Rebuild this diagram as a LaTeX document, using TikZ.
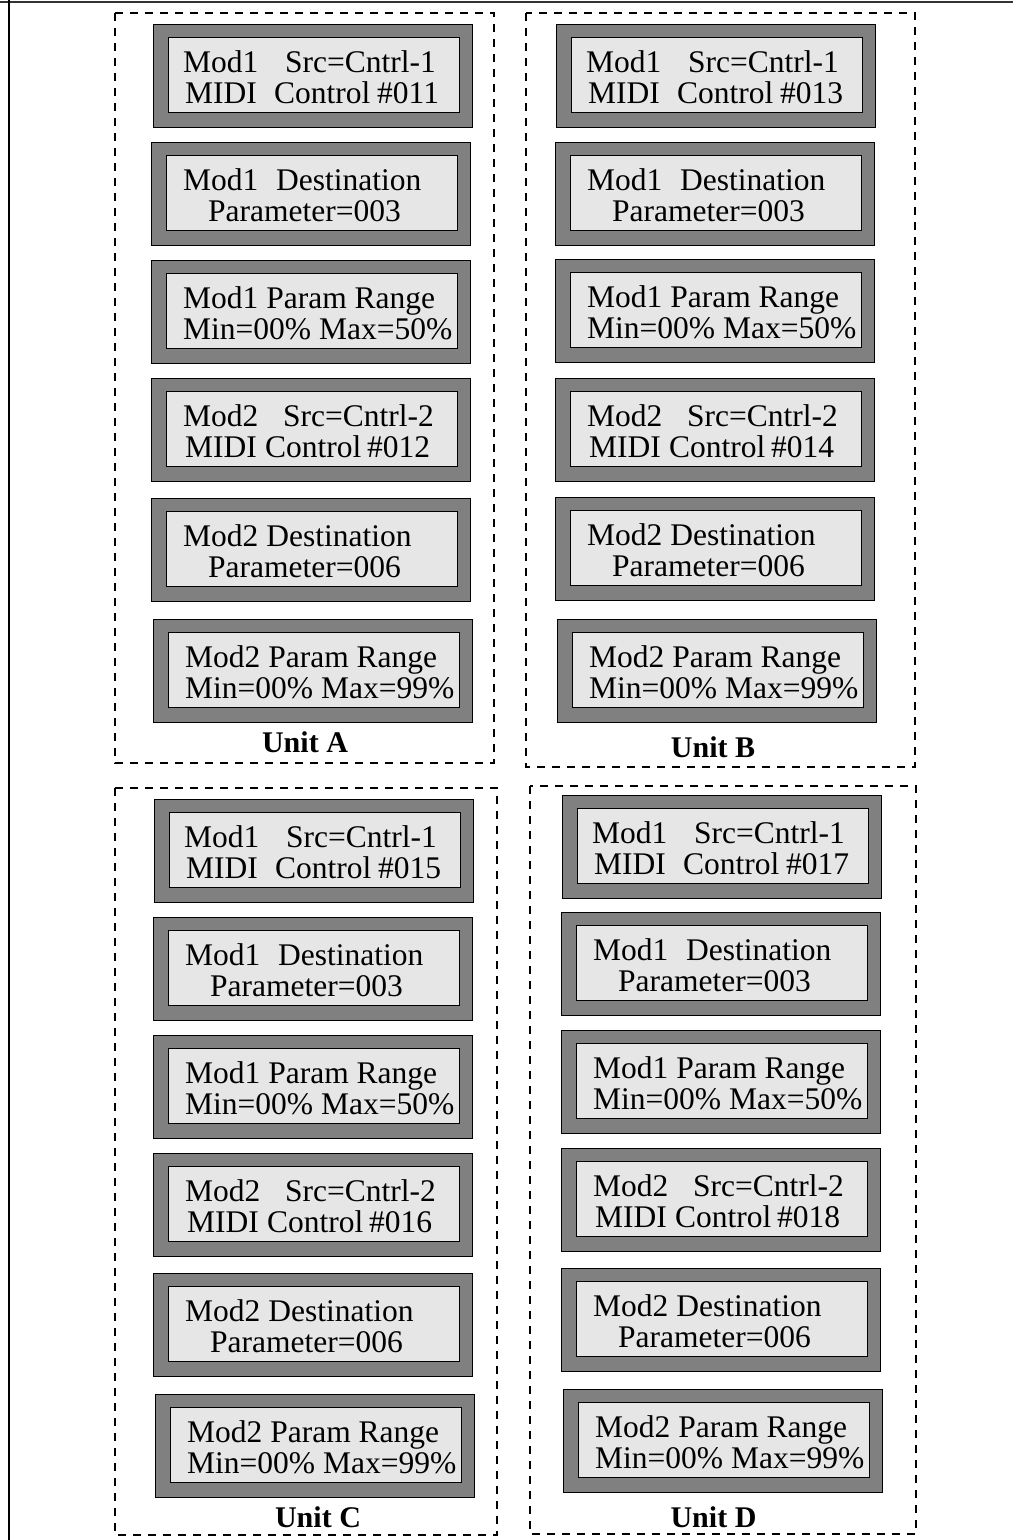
\documentclass[tikz,border=0pt]{standalone}
\usepackage{fontspec}
\setmainfont{Liberation Serif}
\definecolor{outerg}{HTML}{808080}
\definecolor{innerg}{HTML}{E6E6E6}
\tikzset{
 outerbox/.style={draw=black, line width=1pt, fill=outerg, minimum width=319pt, minimum height=103pt, inner sep=0pt, anchor=north west},
 innerbox/.style={draw=black, line width=1pt, fill=innerg, minimum width=291pt, minimum height=75pt, inner sep=0pt, anchor=north west},
 lcdtext/.style={anchor=base west, inner sep=0pt, font=\fontsize{31.5}{31.5}\selectfont},
 unitframe/.style={draw=black, line width=1.2pt, dash pattern=on 8pt off 7pt},
 unitlabel/.style={anchor=base, inner sep=0pt, font=\fontsize{30}{30}\selectfont\bfseries},
 framerule/.style={line width=2pt},
}
\newcommand\lcdbox[5]{%
 \node[outerbox] (#1) at (#2,#3) {};
 \node[innerbox] (#1i) at ([xshift=15pt,yshift=-13pt]#1.north west) {};
 \node[lcdtext] (#1a) at ([xshift=31pt,yshift=-48pt]#1.north west) {#4};
 \node[lcdtext] (#1b) at ([xshift=31pt,yshift=-79pt]#1.north west) {#5};
}
\newcommand\srcone[4]{\lcdbox{#1}{#2}{#3}{\hspace*{-1pt}\makebox[102pt][l]{Mod1}Src=Cntrl-1}{\hspace*{1pt}\makebox[89pt][l]{MIDI}\makebox[103pt][l]{Control}\##4}}
\newcommand\destone[3]{\lcdbox{#1}{#2}{#3}{\hspace*{1pt}\makebox[93pt][l]{Mod1}Destination}{\hspace*{26pt}Parameter=003}}
\newcommand\rangeone[3]{\lcdbox{#1}{#2}{#3}{\hspace*{1pt}Mod1 Param Range}{\hspace*{1pt}Min=00\% Max=50\%}}
\newcommand\srctwo[4]{\lcdbox{#1}{#2}{#3}{\hspace*{1pt}\makebox[100pt][l]{Mod2}Src=Cntrl-2}{\hspace*{3pt}\makebox[80pt][l]{MIDI}\makebox[102pt][l]{Control}\##4}}
\newcommand\desttwo[3]{\lcdbox{#1}{#2}{#3}{\hspace*{1pt}Mod2 Destination}{\hspace*{26pt}Parameter=006}}
\newcommand\rangetwo[3]{\lcdbox{#1}{#2}{#3}{\hspace*{1pt}Mod2 Param Range}{\hspace*{1pt}Min=00\% Max=99\%}}
\begin{document}
\begin{tikzpicture}[x=1pt,y=-1pt]
\useasboundingbox (0,0) rectangle (1013,1540);
\fill[white] (0,0) rectangle (1013,1540);
\draw[framerule, black!80] (0,2) -- (1013,2);
\draw[framerule] (8.5,0) -- (8.5,1540);
% unit frames
\draw[unitframe] (115,13) rectangle (494,763);
\draw[unitframe] (526,13) rectangle (915,767);
\draw[unitframe] (115,788) rectangle (497,1535);
\draw[unitframe] (530,786) rectangle (916,1534);
% Unit A
\srcone{a1}{153}{24}{011}
\destone{a2}{151}{142}
\rangeone{a3}{151}{260}
\srctwo{a4}{151}{378}{012}
\desttwo{a5}{151}{498}
\rangetwo{a6}{153}{619}
\node[unitlabel] (ua) at (305,752) {Unit A};
% Unit B
\srcone{b1}{556}{24}{013}
\destone{b2}{555}{142}
\rangeone{b3}{555}{259}
\srctwo{b4}{555}{378}{014}
\desttwo{b5}{555}{497}
\rangetwo{b6}{557}{619}
\node[unitlabel] (ub) at (713,757) {Unit B};
% Unit C
\srcone{c1}{154}{799}{015}
\destone{c2}{153}{917}
\rangeone{c3}{153}{1035}
\srctwo{c4}{153}{1153}{016}
\desttwo{c5}{153}{1273}
\rangetwo{c6}{155}{1394}
\node[unitlabel] (uc) at (318,1527) {Unit C};
% Unit D
\srcone{d1}{562}{795}{017}
\destone{d2}{561}{912}
\rangeone{d3}{561}{1030}
\srctwo{d4}{561}{1148}{018}
\desttwo{d5}{561}{1268}
\rangetwo{d6}{563}{1389}
\node[unitlabel] (ud) at (713.5,1527) {Unit D};
\end{tikzpicture}
\end{document}
